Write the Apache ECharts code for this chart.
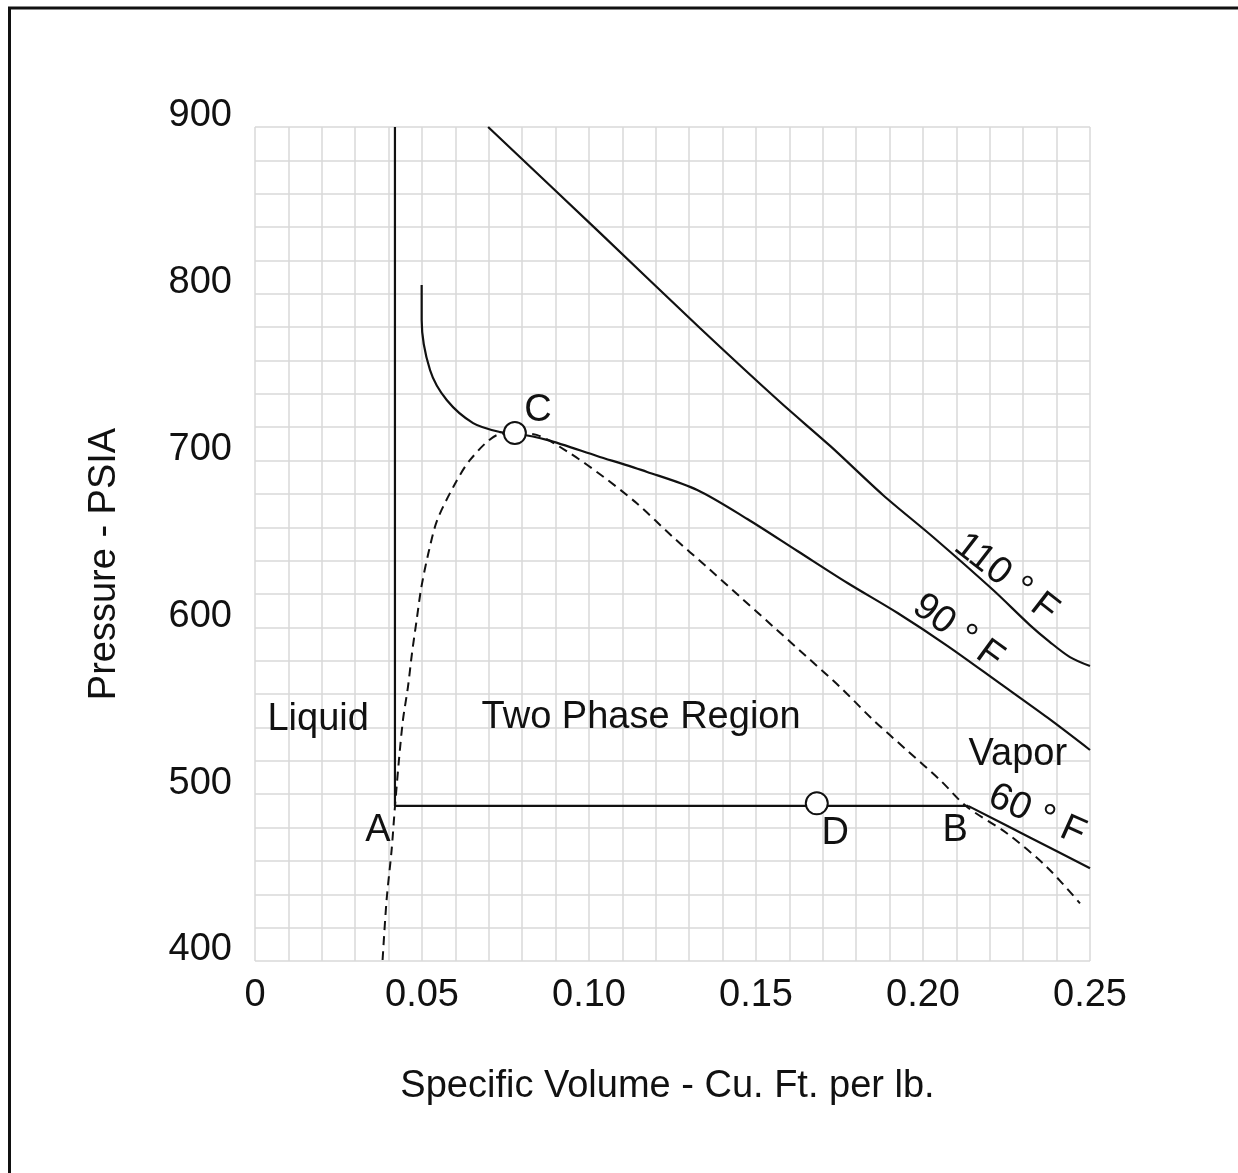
<!DOCTYPE html>
<html>
<head>
<meta charset="utf-8">
<script src="https://cdn.jsdelivr.net/npm/echarts@6/dist/echarts.min.js"></script>
<style>
html,body{margin:0;padding:0;background:#fff;}
#chart{width:1238px;height:1173px;}
</style>
</head>
<body>
<div id="chart"></div>
<script>
// ---- data (specific volume, pressure) ----
const xTicks = [0, 0.05, 0.10, 0.15, 0.20, 0.25];
const yTicks = [400, 500, 600, 700, 800, 900];

const isotherm110 = [
  [0.0698, 900], [0.1033, 836.5], [0.1332, 779.5], [0.1572, 735.1], [0.1722, 708.8],
  [0.1880, 679.4], [0.2030, 654.2], [0.2210, 622.4], [0.2320, 601.4], [0.2380, 591.2],
  [0.2440, 582.2], [0.2500, 576.8]
];
const isotherm90 = [
  [0.0499, 805.3], [0.0499, 784.3], [0.0524, 754.3], [0.0574, 736.3], [0.0653, 722.5],
  [0.0734, 717.1], [0.0778, 716.4], [0.0874, 712.4], [0.1024, 702.8], [0.1174, 693.2],
  [0.1324, 682.4], [0.1474, 665.0], [0.1624, 645.8], [0.1774, 626.6], [0.1924, 608.6],
  [0.2074, 588.8], [0.2224, 567.3], [0.2374, 545.7], [0.2500, 526.5]
];
const isotherm60Liquid = [[0.0419, 900], [0.0419, 493], [0.2135, 493]];
const isotherm60Vapor = [[0.2135, 493], [0.2320, 474.1], [0.2500, 455.6]];
const saturationDome = [
  [0.0382, 400.6], [0.0394, 436.6], [0.0409, 466.5], [0.0419, 492.5], [0.0431, 520.5],
  [0.0443, 544.5], [0.0458, 564.4], [0.0470, 584.5], [0.0484, 604.4], [0.0498, 624.0],
  [0.0519, 644.4], [0.0545, 664.0], [0.0594, 684.3], [0.0644, 700.4], [0.0724, 715.3],
  [0.0778, 716.5], [0.0843, 715.4], [0.0943, 704.4], [0.1043, 690.3], [0.1143, 674.4],
  [0.1251, 654.2], [0.1352, 636.4], [0.1452, 618.4], [0.1552, 600.4], [0.1652, 582.4],
  [0.1751, 564.4], [0.1851, 544.5], [0.1951, 526.5], [0.2051, 508.5], [0.2131, 492.5],
  [0.2251, 476.6], [0.2370, 456.5], [0.2470, 434.6]
];
const statePoints = [[0.0778, 716.5], [0.1682, 494.5]];

const annoNames = ['Liquid', 'Two Phase Region', 'Vapor', 'A', 'D', 'B', 'C', '110 ° F', '90 ° F', '60 ° F'];
const annoPos = [
  [0.0189, 544.5], [0.1156, 545.7], [0.2284, 523.5], [0.0368, 478.5], [0.1737, 476.7],
  [0.2096, 478.5], [0.0847, 730.3], [0.2249, 629.6], [0.2105, 597.2], [0.2341, 487.5]
];
const annoRotate = [0, 0, 0, 0, 0, 0, 0, -38, -36, -24];

// ---- chart ----
const FONT = '"Liberation Sans", Arial, Helvetica, sans-serif';
const FS = 38;
const INK = '#111';
const chart = echarts.init(document.getElementById('chart'), null, {renderer: 'canvas'});

const gridLine = {show: true, lineStyle: {color: '#d9d9d9', width: 1.5}};

const lineSeries = (data, opts) => Object.assign({
  type: 'line', data: data, showSymbol: false, symbol: 'none', smooth: 0.3,
  lineStyle: {color: INK, width: 2.2}, silent: true, z: 3
}, opts || {});

chart.setOption({
  animation: false,
  backgroundColor: '#fff',
  textStyle: {fontFamily: FONT},
  grid: {left: 255, top: 127, width: 835, height: 834, containLabel: false},
  xAxis: {
    type: 'value', min: 0, max: 0.25, interval: 0.05,
    axisLine: {show: false}, axisTick: {show: false},
    splitLine: gridLine,
    minorTick: {show: false, splitNumber: 5},
    minorSplitLine: gridLine,
    axisLabel: {
      fontSize: FS, color: INK, margin: 16, fontFamily: FONT,
      formatter: v => {
        const i = xTicks.findIndex(t => Math.abs(t - v) < 1e-9);
        return i < 0 ? '' : (xTicks[i] === 0 ? '0' : xTicks[i].toFixed(2));
      }
    },
    name: 'Specific Volume - Cu. Ft. per lb.', nameLocation: 'middle', nameGap: 107,
    nameTextStyle: {fontSize: FS, color: INK, fontFamily: FONT, padding: [0, 10, 0, 0]}
  },
  yAxis: {
    type: 'value', min: 400, max: 900, interval: 100,
    axisLine: {show: false}, axisTick: {show: false},
    splitLine: gridLine,
    minorTick: {show: false, splitNumber: 5},
    minorSplitLine: gridLine,
    axisLabel: {
      margin: 23,
      formatter: v => {
        const t = yTicks.find(t => t === v);
        return t === undefined ? '' : '{a|' + t + '}';
      },
      rich: {a: {fontSize: FS, color: INK, fontFamily: FONT, padding: [0, 0, 22, 0]}}
    },
    name: 'Pressure - PSIA', nameLocation: 'middle', nameGap: 131, nameRotate: 90,
    nameTextStyle: {fontSize: FS, color: INK, fontFamily: FONT, padding: [0, 40, 0, 0]}
  },
  graphic: [
    {type: 'line', shape: {x1: 8, y1: 8, x2: 1238, y2: 8}, style: {stroke: '#111', lineWidth: 3}},
    {type: 'line', shape: {x1: 9.5, y1: 7, x2: 9.5, y2: 1173}, style: {stroke: '#111', lineWidth: 3}}
  ],
  series: [
    lineSeries(isotherm110),
    lineSeries(isotherm90),
    lineSeries(isotherm60Liquid, {smooth: false}),
    lineSeries(isotherm60Vapor),
    lineSeries(saturationDome, {lineStyle: {color: INK, width: 2, type: [9, 6]}}),
    {
      type: 'scatter', data: statePoints, symbol: 'circle', symbolSize: 22, silent: true, z: 5,
      itemStyle: {color: '#fff', borderColor: INK, borderWidth: 2, opacity: 1}
    },
    {
      type: 'scatter', symbolSize: 1, silent: true, z: 6,
      itemStyle: {opacity: 0},
      data: annoNames.map((n, i) => ({
        value: annoPos[i], name: n,
        label: {rotate: annoRotate[i]}
      })),
      label: {
        show: true, position: 'inside', formatter: p => p.name, opacity: 1,
        fontSize: FS, color: INK, fontFamily: FONT, textBorderWidth: 0
      }
    }
  ]
});
</script>
</body>
</html>
